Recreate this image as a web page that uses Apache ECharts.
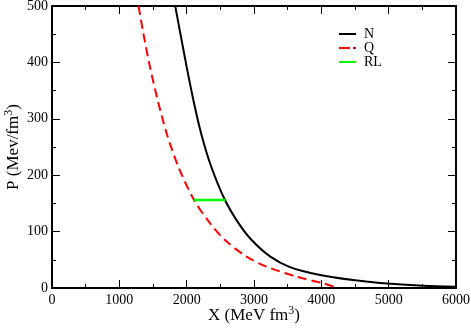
<!DOCTYPE html>
<html>
<head>
<meta charset="utf-8">
<script src="https://cdn.jsdelivr.net/npm/echarts@6/dist/echarts.min.js"></script>
<style>
  html, body { margin: 0; padding: 0; background: #fff; }
  #chart { width: 471px; height: 329px; }
</style>
</head>
<body>
<div id="chart"></div>
<script>
// N (black solid)
const nX = [1830, 1905, 2000, 2100, 2215, 2365, 2569, 2770, 2965, 3237, 3534, 3980, 4470, 4871, 5510, 6000];
const nP = [500, 452, 392, 333, 274, 215, 156, 115, 85, 56, 37, 23, 14, 9, 4, 2.3];

// Q (red dashed)
const qX = [1285, 1356, 1455, 1570, 1703, 1876, 2110, 2346, 2569, 2891, 3188, 3634, 4025, 4250];
const qP = [500, 452, 392, 333, 274, 215, 156, 115, 85, 55.5, 37.8, 20, 8.3, 0];

// RL (green horizontal segment)
const rlX = [2110, 2575];
const rlP = [156, 156];

const xTicks = [0, 1000, 2000, 3000, 4000, 5000, 6000];
const yTicks = [0, 100, 200, 300, 400, 500];

const FONT = '"Liberation Serif", "DejaVu Serif", serif';

// legend swatches: solid bar, dash + dot, solid bar
const ICON_SOLID = 'path://M0,0H17V2H0Z';
const ICON_DASHDOT = 'path://M0,0H11V2H0Z M14,0H17V2H14Z';

function pairs(xs, ys) {
  return xs.map((x, i) => [x, ys[i]]);
}

const chart = echarts.init(document.getElementById('chart'));

const tickStyle = { color: '#000', width: 1 };
const lineStyle = { color: '#000', width: 2 };
const nameStyle = {
  fontFamily: FONT, fontSize: 17, color: '#000',
  rich: { sup: { fontFamily: FONT, fontSize: 12, verticalAlign: 'top', padding: [0, 0, 9, 0] } },
};

function mirrorAxis(pos, ticks, step) {
  return {
    type: 'value',
    position: pos,
    min: ticks[0],
    max: ticks[ticks.length - 1],
    interval: step,
    axisLine: { onZero: false, lineStyle },
    axisTick: { inside: true, length: 8, lineStyle: tickStyle },
    minorTick: { show: true, splitNumber: 2, length: 4, lineStyle: tickStyle },
    axisLabel: { show: false },
    splitLine: { show: false },
  };
}

const option = {
  backgroundColor: '#fff',
  animation: false,
  grid: { left: 52, right: 15, top: 6, bottom: 41, outerBoundsMode: 'none', containLabel: false },
  legend: {
    orient: 'vertical',
    left: 339,
    top: 27,
    padding: 0,
    itemWidth: 17,
    itemHeight: 2,
    itemGap: 0,
    textStyle: { fontFamily: FONT, fontSize: 14, lineHeight: 14, color: '#000', padding: [0, 0, 0, 3] },
    data: [
      { name: 'N', icon: ICON_SOLID },
      { name: 'Q', icon: ICON_DASHDOT },
      { name: 'RL', icon: ICON_SOLID },
    ],
  },
  xAxis: [{
    type: 'value',
    min: xTicks[0],
    max: xTicks[xTicks.length - 1],
    interval: 1000,
    name: 'X (MeV fm{sup|3})',
    nameLocation: 'middle',
    nameGap: 17,
    nameMoveOverlap: false,
    nameTextStyle: nameStyle,
    axisLine: { onZero: false, lineStyle },
    axisTick: { inside: true, length: 8, lineStyle: tickStyle },
    minorTick: { show: true, splitNumber: 2, length: 4, lineStyle: tickStyle },
    axisLabel: { fontFamily: FONT, fontSize: 14, color: '#000', margin: 5, formatter: v => String(v) },
    splitLine: { show: false },
  }, mirrorAxis('top', xTicks, 1000)],
  yAxis: [{
    type: 'value',
    min: yTicks[0],
    max: yTicks[yTicks.length - 1],
    interval: 100,
    name: 'P (Mev/fm{sup|3})',
    nameLocation: 'middle',
    nameGap: 28,
    nameMoveOverlap: false,
    nameTextStyle: nameStyle,
    axisLine: { onZero: false, lineStyle },
    axisTick: { inside: true, length: 8, lineStyle: tickStyle },
    minorTick: { show: true, splitNumber: 2, length: 4, lineStyle: tickStyle },
    axisLabel: { fontFamily: FONT, fontSize: 14, color: '#000', margin: 4, formatter: v => String(v) },
    splitLine: { show: false },
  }, mirrorAxis('right', yTicks, 100)],
  series: [{
    name: 'N',
    type: 'line',
    symbol: 'none',
    smooth: 0.3,
    clip: true,
    lineStyle: { color: '#000', width: 2 },
    itemStyle: { color: '#000' },
    data: pairs(nX, nP),
    z: 3,
  }, {
    name: 'Q',
    type: 'line',
    symbol: 'none',
    smooth: 0.3,
    clip: true,
    lineStyle: { color: '#ff0000', width: 2, type: [9, 5] },
    itemStyle: { color: '#ff0000' },
    data: pairs(qX, qP),
    z: 2,
  }, {
    name: 'RL',
    type: 'line',
    symbol: 'none',
    lineStyle: { color: '#00ff00', width: 2.5 },
    itemStyle: { color: '#00ff00' },
    data: pairs(rlX, rlP),
    z: 4,
  }],
};

chart.setOption(option);
</script>
</body>
</html>
